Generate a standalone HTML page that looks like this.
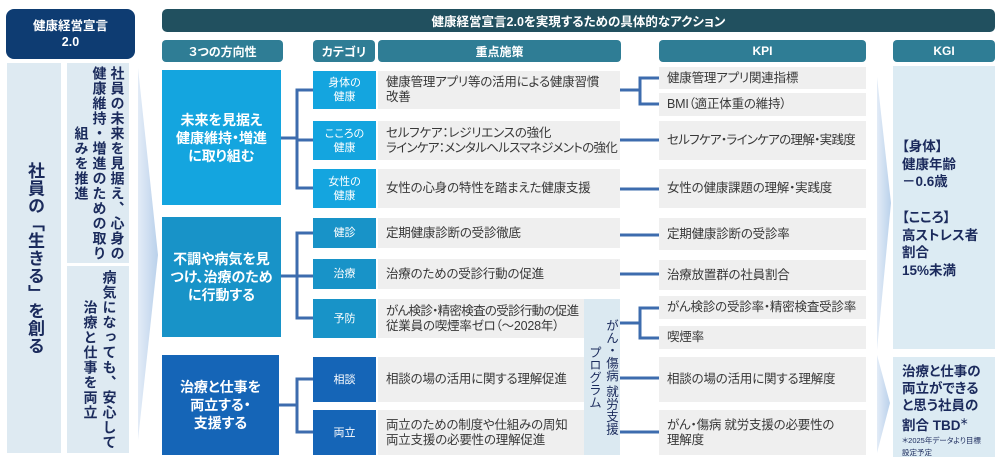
<!DOCTYPE html>
<html><head><meta charset="utf-8">
<style>
*{margin:0;padding:0;box-sizing:border-box}
body{width:1000px;height:464px;background:#fff;position:relative;overflow:hidden;font-family:"Liberation Sans","Noto Sans CJK JP",sans-serif;}
.a{position:absolute}
.hdr{position:absolute;background:#2f7d95;color:#fff;font-weight:bold;font-size:12px;display:flex;align-items:center;justify-content:center;border-radius:4px;font-feature-settings:"palt";}
.g{position:absolute;background:#efefef;color:#383838;font-size:12.5px;line-height:15px;padding-left:8px;display:flex;align-items:center;font-feature-settings:"palt";white-space:nowrap;letter-spacing:-0.2px;}
.c{position:absolute;left:313px;width:63px;color:#fff;font-size:11px;line-height:14px;display:flex;align-items:center;justify-content:center;text-align:center;font-feature-settings:"palt";}
.d{position:absolute;left:162px;color:#fff;font-weight:bold;font-size:14px;line-height:18px;display:flex;align-items:center;justify-content:center;text-align:center;font-feature-settings:"palt";}
.p{position:absolute;background:#deeaf2;display:flex;align-items:center;justify-content:center;}
.vt{writing-mode:vertical-rl;text-align:center;color:#1b2b5c;}
.b1{background:#14a5df}.b2{background:#1893c8}.b3{background:#1565b7}
.kgi{position:absolute;left:893px;width:102px;background:#dcebf3;color:#1b2a5c;font-weight:bold;font-size:13.5px;font-feature-settings:"palt";padding-left:9px;}
.n{letter-spacing:-0.7px}
</style></head><body>

<!-- chevrons -->
<svg class="a" style="left:0;top:0" width="1000" height="464">
<defs>
<linearGradient id="cg" x1="0" x2="1" y1="0" y2="0"><stop offset="0" stop-color="#e3ecf7"/><stop offset="1" stop-color="#bad1eb"/></linearGradient>
</defs>
<polygon points="138,68 158,255 138,440" fill="url(#cg)"/>
<polygon points="877,77 891,203 877,350" fill="url(#cg)"/>
<polygon points="877,355 890,403 877,453" fill="url(#cg)"/>
</svg>

<!-- left header -->
<div class="a" style="left:6px;top:9px;width:129px;height:50px;background:#0e3c72;border-radius:8px;color:#fff;font-weight:bold;font-size:12.5px;line-height:16px;display:flex;align-items:center;justify-content:center;text-align:center;">健康経営宣言<br>2.0</div>

<!-- top bar -->
<div class="a" style="left:162px;top:9px;width:833px;height:23px;background:#21505f;border-radius:5px;color:#fff;font-weight:bold;font-size:12.5px;display:flex;align-items:center;justify-content:center;font-feature-settings:'palt';">健康経営宣言2.0を実現するための具体的なアクション</div>

<!-- sub headers -->
<div class="hdr" style="left:162px;top:40px;width:121px;height:22px;">３つの方向性</div>
<div class="hdr" style="left:313px;top:40px;width:62px;height:22px;">カテゴリ</div>
<div class="hdr" style="left:378px;top:40px;width:243px;height:22px;">重点施策</div>
<div class="hdr" style="left:659px;top:40px;width:207px;height:22px;">KPI</div>
<div class="hdr" style="left:893px;top:40px;width:102px;height:22px;">KGI</div>

<!-- left panels -->
<div class="p" style="left:7px;top:63px;width:54px;height:390px;">
  <div class="vt" style="height:390px;font-size:17px;font-weight:bold;letter-spacing:0.5px;line-height:20px;">社員の「生きる」を創る</div>
</div>
<div class="p" style="left:67px;top:63px;width:62px;height:200px;padding-left:3px;">
  <div class="vt" style="height:200px;font-size:14px;font-weight:bold;letter-spacing:1px;line-height:18px;">社員の未来を見据え、心身の<br>健康維持・増進のための取り<br>組みを推進</div>
</div>
<div class="p" style="left:67px;top:266px;width:62px;height:187px;padding-left:3px;">
  <div class="vt" style="height:187px;font-size:14px;font-weight:bold;letter-spacing:1px;line-height:19px;">病気になっても、安心して<br>治療と仕事を両立</div>
</div>

<!-- direction boxes -->
<div class="d b1" style="top:70px;width:119px;height:135px;">未来を見据え<br>健康維持・増進<br>に取り組む</div>
<div class="d b2" style="top:217px;width:119px;height:120px;">不調や病気を見<br>つけ、治療のため<br>に行動する</div>
<div class="d b3" style="top:355px;width:117px;height:100px;">治療と仕事を<br>両立する・<br>支援する</div>

<!-- category boxes -->
<div class="c b1" style="top:71px;height:38px;">身体の<br>健康</div>
<div class="c b1" style="top:121px;height:39px;">こころの<br>健康</div>
<div class="c b1" style="top:169px;height:39px;">女性の<br>健康</div>
<div class="c b2" style="top:218px;height:30px;">健診</div>
<div class="c b2" style="top:259px;height:30px;">治療</div>
<div class="c b2" style="top:299px;height:39px;">予防</div>
<div class="c b3" style="top:357px;height:45px;">相談</div>
<div class="c b3" style="top:410px;height:45px;">両立</div>

<!-- measures -->
<div class="g" style="left:378px;top:71px;width:242px;height:38px;">健康管理アプリ等の活用による健康習慣<br>改善</div>
<div class="g" style="left:378px;top:121px;width:242px;height:39px;"><span>セルフケア：レジリエンスの強化<br><span class="n">ラインケア：メンタルヘルスマネジメントの強化</span></span></div>
<div class="g" style="left:378px;top:169px;width:242px;height:39px;">女性の心身の特性を踏まえた健康支援</div>
<div class="g" style="left:378px;top:218px;width:242px;height:30px;">定期健康診断の受診徹底</div>
<div class="g" style="left:378px;top:259px;width:242px;height:30px;">治療のための受診行動の促進</div>
<div class="g" style="left:378px;top:299px;width:206px;height:39px;"><span><span class="n">がん検診・精密検査の受診行動の促進</span><br>従業員の喫煙率ゼロ（～2028年）</span></div>
<div class="g" style="left:378px;top:357px;width:206px;height:45px;">相談の場の活用に関する理解促進</div>
<div class="g" style="left:378px;top:410px;width:206px;height:45px;">両立のための制度や仕組みの周知<br>両立支援の必要性の理解促進</div>

<!-- program box -->
<div class="p" style="left:584px;top:299px;width:36px;height:156px;background:#dbe9f1;">
  <div class="vt" style="height:156px;font-size:12.5px;line-height:17px;">がん・傷病 就労支援<br>プログラム</div>
</div>

<!-- KPI -->
<div class="g" style="left:659px;top:67px;width:207px;height:22px;">健康管理アプリ関連指標</div>
<div class="g" style="left:659px;top:93px;width:207px;height:23px;">BMI（適正体重の維持）</div>
<div class="g" style="left:659px;top:121px;width:207px;height:39px;"><span class="n">セルフケア・ラインケアの理解・実践度</span></div>
<div class="g" style="left:659px;top:169px;width:207px;height:39px;">女性の健康課題の理解・実践度</div>
<div class="g" style="left:659px;top:218px;width:207px;height:32px;">定期健康診断の受診率</div>
<div class="g" style="left:659px;top:260px;width:207px;height:30px;">治療放置群の社員割合</div>
<div class="g" style="left:659px;top:296px;width:207px;height:23px;">がん検診の受診率・精密検査受診率</div>
<div class="g" style="left:659px;top:326px;width:207px;height:23px;">喫煙率</div>
<div class="g" style="left:659px;top:357px;width:207px;height:45px;">相談の場の活用に関する理解度</div>
<div class="g" style="left:659px;top:410px;width:207px;height:45px;">がん・傷病 就労支援の必要性の<br>理解度</div>

<!-- KGI -->
<div class="kgi" style="top:66px;height:283px;padding-top:72px;line-height:17.7px;">【身体】<br>健康年齢<br>－0.6歳<br>&nbsp;<br>【こころ】<br>高ストレス者<br>割合<br>15%未満</div>
<div class="kgi" style="top:357px;height:100px;padding-top:6px;line-height:17px;">治療と仕事の<br>両立ができる<br>と思う社員の<br>割合 TBD<span style="font-size:9px;vertical-align:5px;">＊</span>
<div style="font-size:7.5px;line-height:12px;font-weight:normal;margin-top:1px;">＊2025年データより目標<br>設定予定</div></div>

<!-- connectors -->
<svg class="a" style="left:0;top:0" width="1000" height="464" fill="none" stroke="#3d6cae" stroke-width="3">
<path d="M281 138H297M297 88.5V189.5M297 90H313M297 140H313M297 188H313"/>
<path d="M281 276H313M297 231.5V319.5M297 233H313M297 318H313"/>
<path d="M279 405H297M297 377.5V433.5M297 379H313M297 432H313"/>
<path d="M620 90H640M640 76.5V105.5M640 78H659M640 104H659"/>
<path d="M620 140H659M620 189H659M620 235H659M620 274H659"/>
<path d="M620 323H640M640 306.5V339.5M640 308H659M640 338H659"/>
<path d="M620 378H659M620 432H659"/>
</svg>

</body></html>
